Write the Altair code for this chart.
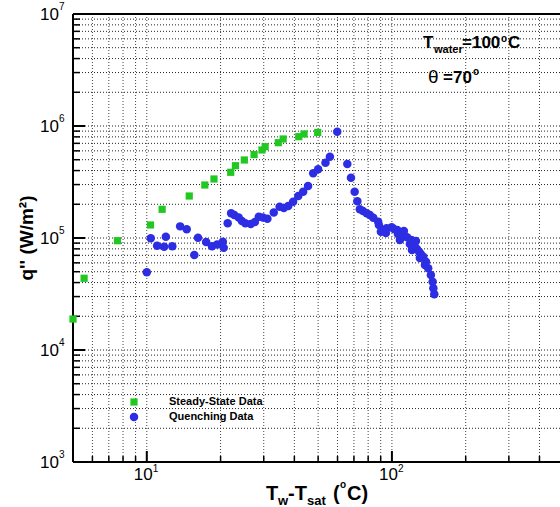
import altair as alt
import pandas as pd

# ---------------- data ----------------
steady_x = [5.0, 5.55, 7.59, 10.35, 11.55, 14.9, 17.25, 18.8, 22.0, 23.0, 25.0, 27.4,
            29.5, 30.4, 34.4, 36.0, 41.7, 43.8, 49.8]
steady_q = [18900, 43700, 94600, 130700, 180400, 237100, 297300, 336400, 386100, 442100,
            497100, 555400, 610600, 653500, 709300, 765600, 802800, 848500, 875000]

quench_x = [10.0, 10.38, 11.02, 11.77, 11.96, 12.71, 13.68, 14.55, 15.63, 16.18, 17.46,
            18.45, 19.36, 20.42, 20.6, 21.38, 22.08, 22.75, 23.71, 24.43, 25.23, 26.55,
            27.6, 28.64, 29.76, 31.05, 32.96, 34.83, 36.22, 37.76, 39.54, 41.5, 43.45,
            45.5, 47.75, 50.0, 53.58, 55.85, 59.84, 65.77, 68.08, 70.47, 72.28, 73.96,
            76.21, 78.89, 81.28, 83.95, 87.9, 88.5, 90.16, 92.68, 94.5, 95.06, 99.77, 101.9,
            105.2, 105.8, 107.8, 109.6, 111.9, 111.9, 115.3, 118.4, 120.2, 120.7, 124.2,
            125.3, 126.5, 129.1, 130.0, 131.2, 134.3, 136.4, 137.7, 140.6, 144.2, 146.6,
            147.6, 148.9]
quench_q = [49400, 99300, 85300, 83600, 102800, 84300, 127000, 119700, 70500, 100700, 92000,
            84300, 87500, 92700, 81800, 135200, 166300, 160300, 152400, 141900, 135200, 133400,
            139000, 154900, 152400, 148300, 169000, 190100, 185400, 193200, 210900, 237100, 258800,
            291100, 378400, 410200, 468800, 532100, 889200, 458100, 345100, 258800, 213300, 180700,
            174200, 166300, 160300, 151400, 140000, 130600, 113800, 117800, 110900, 122200, 124700,
            120200, 117800, 108600, 95900, 106400, 104200, 115500, 101400, 88400, 95900, 78200,
            83600, 94000, 79800, 75500, 66200, 71900, 68100, 57400, 61400, 53600, 46800, 40700,
            35600, 31400]

series_names = ["Steady-State Data", "Quenching Data"]

# axis ticks / labels
y_major = [1e4, 1e5, 1e6]
y_minor = [2e3, 3e3, 4e3, 5e3, 6e3, 7e3, 8e3, 9e3,
           2e4, 3e4, 4e4, 5e4, 6e4, 7e4, 8e4, 9e4,
           2e5, 3e5, 4e5, 5e5, 6e5, 7e5, 8e5, 9e5,
           2e6, 3e6, 4e6, 5e6, 6e6, 7e6, 8e6, 9e6]
y_label_vals = [1e3, 1e4, 1e5, 1e6, 1e7]
y_label_exp = ["3", "4", "5", "6", "7"]
x_major = [10, 100]
x_minor = [6, 7, 8, 9, 20, 30, 40, 50, 60, 70, 80, 90, 200, 300, 400]
x_label_exp = ["1", "2"]

W, H = 487, 448
FONT = "Liberation Sans"
GREEN = "#22c822"
BLUE = "#2d2de4"

xs = alt.Scale(type="log", domain=[5, 485], nice=False)
ys = alt.Scale(type="log", domain=[1000, 1e7], nice=False)

steady = pd.DataFrame({"x": steady_x, "q": steady_q})
quench = pd.DataFrame({"x": quench_x, "q": quench_q})
one = pd.DataFrame({"a": [0]})

X = lambda: alt.X("v:Q", scale=xs, axis=None)
Y = lambda: alt.Y("v:Q", scale=ys, axis=None)

# grid
x_grid = alt.Chart(pd.DataFrame({"v": x_minor + x_major})).mark_rule(
    color="#444", strokeWidth=1, strokeDash=[1, 2]).encode(x=X())
y_grid = alt.Chart(pd.DataFrame({"v": y_minor + y_major})).mark_rule(
    color="#222", strokeWidth=1, strokeDash=[1, 2]).encode(y=Y())

# inward ticks
y_tick_major = alt.Chart(pd.DataFrame({"v": y_major})).mark_rule(
    color="black", strokeWidth=2).encode(y=Y(), x=alt.value(0), x2=alt.value(12))
y_tick_minor = alt.Chart(pd.DataFrame({"v": y_minor})).mark_rule(
    color="black", strokeWidth=1.5).encode(y=Y(), x=alt.value(0), x2=alt.value(7))
x_tick_major = alt.Chart(pd.DataFrame({"v": x_major})).mark_rule(
    color="black", strokeWidth=2).encode(x=X(), y=alt.value(H), y2=alt.value(H - 11))
x_tick_minor = alt.Chart(pd.DataFrame({"v": x_minor})).mark_rule(
    color="black", strokeWidth=1.5).encode(x=X(), y=alt.value(H), y2=alt.value(H - 6))

# frame lines
left_line = alt.Chart(one).mark_rule(color="black", strokeWidth=2).encode(
    x=alt.value(0), y=alt.value(0), y2=alt.value(H))
bottom_line = alt.Chart(one).mark_rule(color="black", strokeWidth=2).encode(
    y=alt.value(H), x=alt.value(0), x2=alt.value(W))
top_line = alt.Chart(one).mark_rule(color="black", strokeWidth=2).encode(
    y=alt.value(0), x=alt.value(0), x2=alt.value(W))

# data
sq = alt.Chart(steady).mark_square(size=52, color=GREEN, opacity=1).encode(
    x=alt.X("x:Q", scale=xs, axis=None), y=alt.Y("q:Q", scale=ys, axis=None))
ci = alt.Chart(quench).mark_circle(size=72, color=BLUE, opacity=1).encode(
    x=alt.X("x:Q", scale=xs, axis=None), y=alt.Y("q:Q", scale=ys, axis=None))

# axis labels
ylab_df = pd.DataFrame({"v": y_label_vals, "e": y_label_exp, "b": ["10"] * 5})
ylab_base = alt.Chart(ylab_df).mark_text(align="right", baseline="alphabetic", fontSize=17,
                                         font=FONT, dy=6, color="black").encode(
    y=Y(), x=alt.value(-14), text="b:N")
ylab_exp = alt.Chart(ylab_df).mark_text(align="left", baseline="alphabetic", fontSize=10,
                                        font=FONT, dy=-4, color="black").encode(
    y=Y(), x=alt.value(-14), text="e:N")
xlab_df = pd.DataFrame({"v": x_major, "e": x_label_exp, "b": ["10"] * 2})
xlab_base = alt.Chart(xlab_df).mark_text(align="right", baseline="alphabetic", fontSize=17,
                                         font=FONT, dx=6, color="black").encode(
    x=X(), y=alt.value(466), text="b:N")
xlab_exp = alt.Chart(xlab_df).mark_text(align="left", baseline="alphabetic", fontSize=10,
                                        font=FONT, dx=6, color="black").encode(
    x=X(), y=alt.value(458), text="e:N")


def txt(s, x, y, size, bold=True, angle=0, align="left", baseline="alphabetic"):
    kw = dict(text=s, align=align, baseline=baseline, fontSize=size, font=FONT,
              fontWeight="bold" if bold else "normal", color="black")
    if angle:
        kw["angle"] = angle
    return alt.Chart(one).mark_text(**kw).encode(x=alt.value(x), y=alt.value(y))


# x title  T_w-T_sat (°C)
x_title = [
    txt("T", 193, 486, 20),
    txt("w", 205, 491, 13),
    txt("-T", 215, 486, 20),
    txt("sat", 234, 491, 13),
    txt("(", 260, 486, 20),
    txt("o", 267, 474, 10),
    txt("C)", 274, 486, 20),
]
# y title
y_title = [txt("q'' (W/m²)", -46, 224, 19, angle=270, align="center", baseline="middle")]

# annotations
annot = [
    txt("T", 350, 34, 17),
    txt("water", 361, 39, 11),
    txt("=100", 389, 34, 17),
    txt("o", 428, 28, 10),
    txt("C", 435, 34, 17),
    txt("θ", 355, 69, 19, bold=False),
    txt("=70", 370, 69, 17),
    txt("o", 400, 61, 10),
]

# legend
leg_sq = alt.Chart(one).mark_square(size=52, color=GREEN, opacity=1).encode(
    x=alt.value(61), y=alt.value(388))
leg_ci = alt.Chart(one).mark_circle(size=72, color=BLUE, opacity=1).encode(
    x=alt.value(61), y=alt.value(403))
legend = [leg_sq, leg_ci,
          txt(series_names[0], 96, 388, 11, baseline="middle"),
          txt(series_names[1], 96, 403, 11, baseline="middle")]

chart = alt.layer(
    x_grid, y_grid, y_tick_minor, y_tick_major, x_tick_minor, x_tick_major,
    left_line, bottom_line, top_line, sq, ci,
    ylab_base, ylab_exp, xlab_base, xlab_exp,
    *x_title, *y_title, *annot, *legend,
).properties(
    width=W, height=H,
    autosize=alt.AutoSizeParams(type="none"),
    padding={"left": 73, "top": 14, "right": 0, "bottom": 45},
    background="white",
).configure_view(stroke=None)

chart.save("out.html", embed_options={"renderer": "svg", "actions": False})
